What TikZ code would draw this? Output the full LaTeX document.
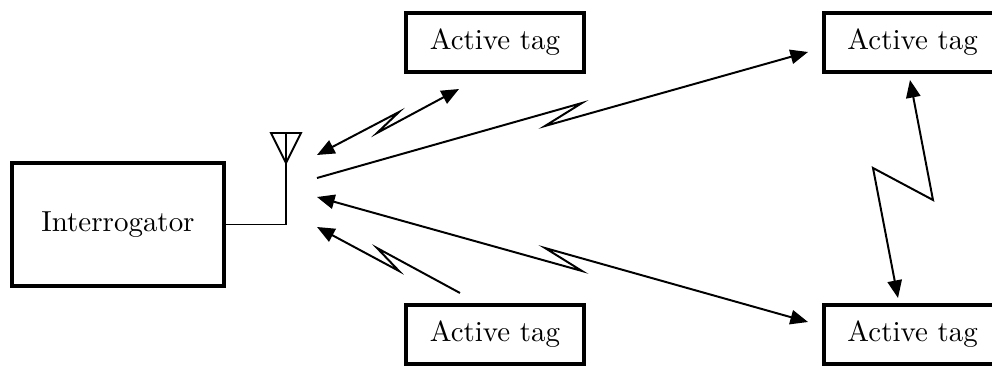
\documentclass[tikz,border=0pt]{standalone}
\usepackage{tikz}
\usetikzlibrary{positioning,arrows.meta}

\begin{document}
\begin{tikzpicture}[x=0.0125cm,y=-0.0125cm,
  font=\fontsize{10.3}{12}\selectfont,
  box/.style={draw, line width=1.4pt, inner sep=0pt},
  tagbox/.style={box, minimum width=2.22cm, minimum height=0.74cm},
  wire/.style={line width=0.7pt},
  radio/.style={wire, line join=miter, >={Triangle[length=2.2mm,width=1.8mm]}}]
\useasboundingbox (0,0) rectangle (992,367);
%----------------------------------
\node [box, minimum width=2.65cm, minimum height=1.54cm] (reader) at (118,224.5) {Interrogator};
\node [tagbox] (tag1) at (495,42.5) {Active tag};
\node [tagbox, right=2.95cm of tag1] (tag2) {Active tag};
\node [tagbox, below=2.86cm of tag1] (tag3) {Active tag};
\node [tagbox, right=2.95cm of tag3] (tag4) {Active tag};
%----------------------------------
\coordinate (antfoot) at (286,224.5);
\coordinate (anttop) at (286,133);
\coordinate (antL) at (271,133);\coordinate (antR) at (301,133);
\coordinate (antB) at (286,163);
\draw [wire] (reader.east) -- (antfoot) -- (anttop);
\draw [wire, line join=miter] (antL) -- (antR) -- (antB) -- cycle;
%----------------------------------
\coordinate (rx1) at (317,155); \coordinate (tx1) at (459,89); %tag1
\coordinate (rx2) at (317,178); \coordinate (tx2) at (808,52); %tag2
\coordinate (rx3) at (317,197); \coordinate (tx4) at (808,322); %tag4
\coordinate (rx4) at (317,227); \coordinate (tx3) at (460,293); %tag3
\coordinate (up) at (910,80); \coordinate (dn) at (898,298); %tag2-tag4
%----------------------------------
\draw [radio, <->] (rx1) -- (399,112) -- (377,133) -- (tx1);
\draw [radio, ->] (rx2) -- (582,103) -- (545,126) -- (tx2);
\draw [radio, <->] (rx3) -- (582,271) -- (545,248) -- (tx4);
\draw [radio, ->] (tx3) -- (377,248) -- (399,271) -- (rx4);
\draw [radio, <->] (up) -- (933,200) -- (873,168) -- (dn);
\end{tikzpicture}
\end{document}
